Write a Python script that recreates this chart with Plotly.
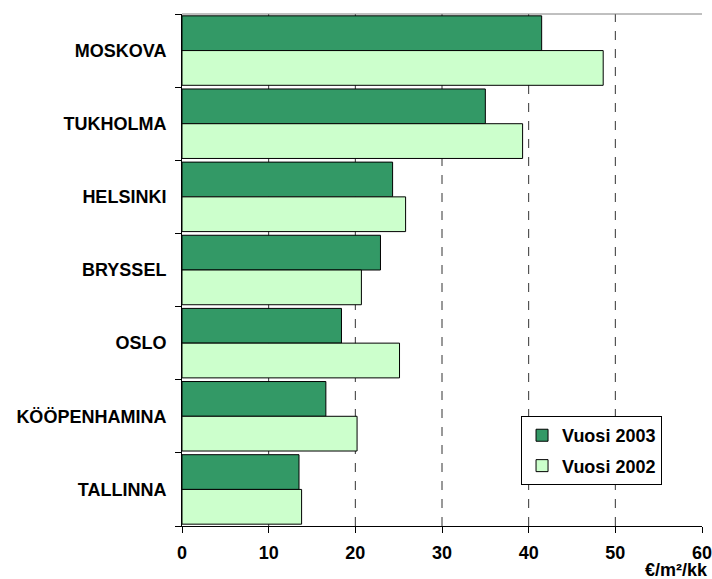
"""
Toimistovuokrat kaupungeittain, vuodet 2003 ja 2002 (€/m²/kk).
"""

import plotly.graph_objects as go

kaupungit = ["MOSKOVA", "TUKHOLMA", "HELSINKI", "BRYSSEL", "OSLO", "KÖÖPENHAMINA", "TALLINNA"]
vuokra_2003 = [41.5, 35.0, 24.3, 22.9, 18.4, 16.6, 13.5]
vuokra_2002 = [48.6, 39.3, 25.8, 20.7, 25.1, 20.2, 13.8]
x_tikit = [0, 10, 20, 30, 40, 50, 60]

FONTTI = "Arial, Liberation Sans, sans-serif"

fig = go.Figure()

fig.add_trace(go.Bar(
    y=kaupungit, x=vuokra_2003,
    orientation="h",
    name="<b>Vuosi 2003</b>",
    legendgroup="a",
    marker={"color": "#339966", "line": {"color": "#000000", "width": 1}},
))
fig.add_trace(go.Bar(
    y=kaupungit, x=vuokra_2002,
    orientation="h",
    name="<b>Vuosi 2002</b>",
    legendgroup="b",
    marker={"color": "#ccffcc", "line": {"color": "#000000", "width": 1}},
))

# katkoviivaiset apuviivat vain välitikeille (ei reunoille)
for v in x_tikit[1:-1]:
    fig.add_vline(x=v, line={"color": "#333333", "width": 1, "dash": "dash"}, layer="below")

# harmaa viiva kuvaajan yläreunassa
fig.add_shape(type="line", xref="paper", yref="paper", x0=0, x1=1, y0=1, y1=1,
              line={"color": "#808080", "width": 1})

fig.add_annotation(
    text="<b>€/m²/kk</b>", xref="paper", yref="paper",
    x=1, y=0, xanchor="right", yanchor="top", xshift=8, yshift=-32,
    showarrow=False, font={"family": FONTTI, "size": 18, "color": "#000000"},
)

fig.update_layout(
    barmode="group",
    bargap=0.05,
    bargroupgap=0,
    width=712, height=579,
    margin={"l": 182, "r": 10, "t": 14, "b": 53},
    paper_bgcolor="white",
    plot_bgcolor="white",
    font={"family": FONTTI, "color": "#000000"},
    showlegend=True,
    legend={
        "x": 0.652, "y": 0.080, "xanchor": "left", "yanchor": "bottom",
        "bgcolor": "white", "bordercolor": "#000000", "borderwidth": 1,
        "font": {"family": FONTTI, "size": 18, "color": "#000000"},
        "tracegroupgap": 4,
    },
    xaxis={
        "range": [0, 60], "tickvals": x_tikit,
        "ticktext": ["<b>%d</b>" % v for v in x_tikit],
        "tickfont": {"size": 18},
        "ticklabeloverflow": "allow",
        "automargin": False,
        "showgrid": False,
        "zeroline": False,
        "showline": True, "linecolor": "#000000", "linewidth": 1,
        "ticks": "outside", "ticklen": 6, "tickcolor": "#000000",
        "ticklabelstandoff": 4,
    },
    yaxis={
        "autorange": "reversed",
        "tickvals": kaupungit,
        "ticktext": ["<b>%s</b>" % k for k in kaupungit],
        "tickfont": {"size": 18},
        "automargin": False,
        "showline": True, "linecolor": "#000000", "linewidth": 1,
        "ticks": "outside", "ticklen": 6, "tickcolor": "#000000",
        "tickson": "boundaries",
        "ticklabelstandoff": 11,
        "showgrid": False,
    },
)

# sivun oletusmarginaali pois, jotta kuva alkaa vasemmasta yläkulmasta
fig.write_html(
    "out.html",
    config={"displayModeBar": False},
    post_script="document.body.style.margin='0';",
)
